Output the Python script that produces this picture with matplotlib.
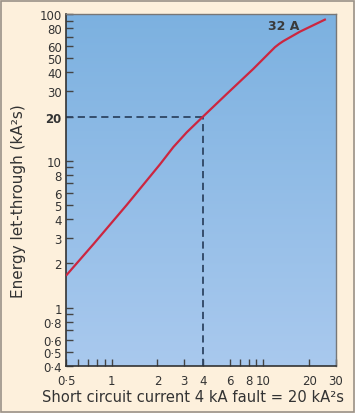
import numpy as np
import matplotlib
matplotlib.use('Agg')
import matplotlib.pyplot as plt
from matplotlib.patches import Rectangle

plt.rcParams['font.family'] = ['DejaVu Sans']

# curve for the 32 A device
current_ka = [0.505, 0.757, 1.256, 2.08, 2.55, 3.12, 4.0, 5.73, 8.57, 11.9, 12.7, 13.5, 17.4, 25.4]
energy_ka2s = [1.67, 2.7, 5.0, 9.45, 12.4, 15.6, 20.0, 28.5, 42.2, 59.3, 62.5, 65.2, 75.7, 91.4]
curve_label = '32 A'

fault_current = 4
fault_energy = 20

x_ticks = [0.5, 1, 2, 3, 4, 6, 8, 10, 20, 30]
x_ticklabels = ['0·5', '1', '2', '3', '4', '6', '8', '10', '20', '30']
x_minor = [0.6, 0.7, 0.8, 0.9, 7, 9]
y_ticks = [0.4, 0.5, 0.6, 0.8, 1, 2, 3, 4, 5, 6, 8, 10, 20, 30, 40, 50, 60, 80, 100]
y_ticklabels = ['0·4', '0·5', '0·6', '0·8', '1', '2', '3', '4', '5', '6', '8', '10',
                '20', '30', '40', '50', '60', '80', '100']
y_minor = [0.7, 0.9, 7, 9, 70, 90]

fig = plt.figure(figsize=(3.55, 4.14), dpi=100)
fig.patch.set_facecolor('#fdf0dc')
fig.patches.append(Rectangle((0.002, 0.002), 0.994, 0.994, transform=fig.transFigure,
                             fill=False, edgecolor='#9a9288', linewidth=1.2))
ax = fig.add_axes([0.186, 0.1135, 0.76, 0.8505])

# blue gradient background
grad = np.linspace(0, 1, 256).reshape(-1, 1)
cmap = matplotlib.colors.LinearSegmentedColormap.from_list('bg', ['#a9c9ee', '#7cb1e0'])
ax.imshow(grad, extent=[0, 1, 0, 1], transform=ax.transAxes, cmap=cmap,
          aspect='auto', origin='lower', zorder=0)

ax.set_xscale('log')
ax.set_yscale('log')
ax.set_xlim(0.5, 30)
ax.set_ylim(0.4, 100)

ax.plot(current_ka, energy_ka2s, color='#cc2640', linewidth=1.6, zorder=3,
        solid_joinstyle='round')
ax.plot([0.5, fault_current], [fault_energy, fault_energy], color='#2e4563',
        linewidth=1.3, dashes=(4, 2.5), zorder=2)
ax.plot([fault_current, fault_current], [0.4, fault_energy], color='#2e4563',
        linewidth=1.3, dashes=(4, 2.5), zorder=2)
ax.text(13.6, 84, curve_label, fontsize=9, fontweight='bold', color='#3a3a3a',
        ha='center', va='center')

ax.set_xticks(x_ticks)
ax.set_xticklabels(x_ticklabels)
ax.set_xticks(x_minor, minor=True)
ax.set_xticklabels([], minor=True)
ax.set_yticks(y_ticks)
ax.set_yticklabels(y_ticklabels)
ax.set_yticks(y_minor, minor=True)
ax.set_yticklabels([], minor=True)
for lab in ax.get_yticklabels():
    if lab.get_text() == '20':
        lab.set_fontweight('bold')

ax.tick_params(which='both', direction='in', length=5, width=1, color='#444444',
               labelsize=8.5, labelcolor='#333333', top=False, right=False)
ax.tick_params(axis='x', which='both', pad=6)
ax.tick_params(axis='y', which='both', pad=3)

for side in ['left', 'bottom']:
    ax.spines[side].set_color('#333333')
    ax.spines[side].set_linewidth(1.2)
for side in ['top', 'right']:
    ax.spines[side].set_color('#777777')
    ax.spines[side].set_linewidth(1.0)

# axis titles placed like the original (a little left of the axes centre)
fig.text(0.545, 0.039, 'Short circuit current 4 kA fault = 20 kA²s', fontsize=10.6,
         color='#333333', ha='center', va='center')
fig.text(0.052, 0.515, 'Energy let-through (kA²s)', fontsize=11, color='#333333',
         rotation=90, ha='center', va='center')

fig.savefig('out.png', dpi=100, facecolor=fig.get_facecolor())
